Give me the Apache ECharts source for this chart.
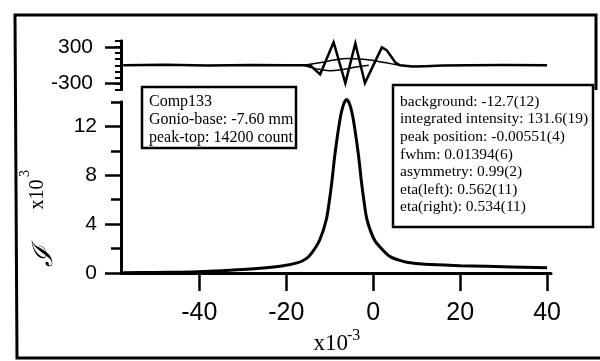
<!DOCTYPE html>
<html>
<head>
<meta charset="utf-8">
<script src="https://cdn.jsdelivr.net/npm/echarts@6/dist/echarts.min.js"></script>
<style>
  html, body { margin: 0; padding: 0; background: #fff; }
  #chart { width: 600px; height: 361px; }
</style>
</head>
<body>
<div id="chart"></div>
<script>
// Rocking-curve profile: angle offset (x10^-3) vs counts (x10^3)
const profileX = [-57.5, -50, -42.1, -36.8, -29.0, -21.4, -17.3, -15.3, -13.9, -12.3, -10.8, -10.05, -9.45, -8.8, -7.7, -6.9, -6.1, -5.3, -4.5, -3.4, -2.75, -2.15, -1.4, 0.3, 2.2, 3.9, 5.8, 7.7, 12.0, 20.0, 26.0, 40.0];
const profileY = [0.02, 0.05, 0.08, 0.16, 0.30, 0.55, 0.85, 1.20, 1.75, 2.70, 4.34, 5.98, 7.62, 9.70, 12.43, 13.7, 14.2, 13.7, 12.43, 9.70, 7.62, 5.98, 4.34, 2.70, 1.89, 1.34, 1.07, 0.88, 0.71, 0.60, 0.55, 0.42];

// Fit residual (counts)
const residX = [-57.5, -48, -38, -28, -20, -14.5, -12.2, -9.1, -6.4, -4.1, -1.9, 2.0, 3.1, 5.1, 6.2, 9, 12, 16, 22, 30, 40];
const residY = [0, 8, -6, 6, 0, 0, -150, 380, -295, 360, -295, 295, 250, 45, 0, -20, -15, -5, 0, 5, 0];

// Smooth difference envelopes in the residual panel
const upperArcX = [-16, -12, -9, -6, -3, 0, 3, 6];
const upperArcY = [0, 45, 85, 110, 105, 80, 40, 0];
const lowerArcX = [-16, -13, -10, -7, -4, -1];
const lowerArcY = [0, -60, -90, -70, -30, 0];

// Tick positions
const xTicks = [-40, -20, 0, 20, 40];
const yMajor = [0, 4, 8, 12];
const yMinor = [2, 6, 10, 14];
const rMajor = [-300, 300];
const rMinor = [-400, -300, -200, -100, 0, 100, 200, 300, 400];

// Annotation text
const sampleLines = ['Comp133', 'Gonio-base: -7.60 mm', 'peak-top: 14200 count'];
const fitLines = [
  'background: -12.7(12)',
  'integrated intensity: 131.6(19)',
  'peak position: -0.00551(4)',
  'fwhm: 0.01394(6)',
  'asymmetry: 0.99(2)',
  'eta(left): 0.562(11)',
  'eta(right): 0.534(11)'
];

const zip = (xs, ys) => xs.map((x, i) => [x, ys[i]]);

const INK = '#000';
const SERIF = '"Liberation Serif", "Times New Roman", serif';
const SANS = '"Liberation Sans", Arial, sans-serif';

const X_MIN = -58, X_MAX = 40.9;

const chart = echarts.init(document.getElementById('chart'), null, { renderer: 'canvas' });

const noSplit = { splitLine: { show: false } };

chart.setOption({
  animation: false,
  backgroundColor: '#fff',
  grid: [
    { left: 121, right: 49, top: 102, height: 171 },
    { left: 121, right: 49, top: 41, height: 48.5 }
  ],
  xAxis: [
    {
      gridIndex: 0, type: 'value', min: X_MIN, max: X_MAX,
      axisLine: { show: true, onZero: false, lineStyle: { color: INK, width: 3 } },
      axisTick: { show: true, customValues: xTicks, length: 18, lineStyle: { color: INK, width: 2.5 } },
      axisLabel: { customValues: xTicks, color: INK, fontSize: 25, fontFamily: SANS, margin: 28 },
      ...noSplit
    },
    { gridIndex: 1, type: 'value', min: X_MIN, max: X_MAX, show: false, ...noSplit }
  ],
  yAxis: [
    {
      gridIndex: 0, type: 'value', min: 0, max: 14, position: 'left', offset: 0,
      axisLine: { show: true, onZero: false, lineStyle: { color: INK, width: 3 } },
      axisTick: { show: true, customValues: yMajor, length: 16, lineStyle: { color: INK, width: 2.5 } },
      axisLabel: { customValues: yMajor, color: INK, fontSize: 21, fontFamily: SANS, margin: 24 },
      ...noSplit
    },
    {
      gridIndex: 0, type: 'value', min: 0, max: 14, position: 'left', offset: 0,
      axisLine: { show: true, onZero: false, lineStyle: { color: INK, width: 3 } },
      axisTick: { show: true, customValues: yMinor, length: 10, lineStyle: { color: INK, width: 2.5 } },
      axisLabel: { show: false },
      ...noSplit
    },
    {
      gridIndex: 1, type: 'value', min: -400, max: 400, position: 'left', offset: 0,
      axisLine: { show: true, onZero: false, lineStyle: { color: INK, width: 3 } },
      axisTick: { show: true, customValues: rMajor, length: 16, lineStyle: { color: INK, width: 2.5 } },
      axisLabel: { customValues: rMajor, color: INK, fontSize: 21, fontFamily: SANS, margin: 28 },
      ...noSplit
    },
    {
      gridIndex: 1, type: 'value', min: -400, max: 400, position: 'left', offset: 0,
      axisLine: { show: true, onZero: false, lineStyle: { color: INK, width: 3 } },
      axisTick: { show: true, customValues: rMinor, length: 6, lineStyle: { color: INK, width: 2 } },
      axisLabel: { show: false },
      ...noSplit
    }
  ],
  series: [
    {
      type: 'line', xAxisIndex: 0, yAxisIndex: 0, data: zip(profileX, profileY),
      showSymbol: false, smooth: 0.3, clip: false,
      lineStyle: { color: INK, width: 3 }
    },
    {
      type: 'line', xAxisIndex: 1, yAxisIndex: 2, data: zip(upperArcX, upperArcY),
      showSymbol: false, smooth: 0.4, clip: false,
      lineStyle: { color: INK, width: 1.5 }
    },
    {
      type: 'line', xAxisIndex: 1, yAxisIndex: 2, data: zip(lowerArcX, lowerArcY),
      showSymbol: false, smooth: 0.4, clip: false,
      lineStyle: { color: INK, width: 1.5 }
    },
    {
      type: 'line', xAxisIndex: 1, yAxisIndex: 2, data: zip(residX, residY),
      showSymbol: false, smooth: false, clip: false,
      lineStyle: { color: INK, width: 2.5, join: 'miter' }
    }
  ],
  graphic: [
    // outer frame: top, left and bottom edges, short right edge
    { type: 'polyline', shape: { points: [[596, 90], [596, 15], [15, 15], [17, 358], [600, 358]] },
      style: { fill: 'none', stroke: INK, lineWidth: 3 }, z: 0 },
    // sample info box
    { type: 'rect', shape: { x: 142, y: 87, width: 154, height: 61 },
      style: { fill: '#fff', stroke: INK, lineWidth: 2.5 }, z: 10 },
    { type: 'text', x: 149, y: 92.7, z: 11,
      style: { text: sampleLines.join('\n'), fill: INK, font: '16px ' + SERIF, lineHeight: 18,
               align: 'left', verticalAlign: 'top' } },
    // fit parameter box
    { type: 'rect', shape: { x: 393, y: 85, width: 200, height: 142 },
      style: { fill: '#fff', stroke: INK, lineWidth: 2.5 }, z: 10 },
    { type: 'text', x: 400, y: 93, z: 11,
      style: { text: fitLines.join('\n'), fill: INK, font: '15.5px ' + SERIF, lineHeight: 17.6,
               align: 'left', verticalAlign: 'top' } },
    // y-axis title (rotated)
    { type: 'text', x: 45, y: 256, rotation: Math.PI / 2, z: 11,
      style: { text: '\u2110', fill: INK, font: 'italic 28px ' + SERIF, align: 'center', verticalAlign: 'middle' } },
    { type: 'text', x: 37.5, y: 194.5, rotation: Math.PI / 2, z: 11,
      style: { text: 'x10', fill: INK, font: '20px ' + SERIF, align: 'center', verticalAlign: 'middle' } },
    { type: 'text', x: 25, y: 173.5, rotation: Math.PI / 2, z: 11,
      style: { text: '3', fill: INK, font: '14px ' + SERIF, align: 'center', verticalAlign: 'middle' } },
    // x-axis title
    { type: 'text', x: 348, y: 344, z: 11,
      style: { text: 'x10', fill: INK, font: '23px ' + SERIF, align: 'right', verticalAlign: 'middle' } },
    { type: 'text', x: 347, y: 336, z: 11,
      style: { text: '-3', fill: INK, font: '16px ' + SERIF, align: 'left', verticalAlign: 'middle' } }
  ]
});
</script>
</body>
</html>
